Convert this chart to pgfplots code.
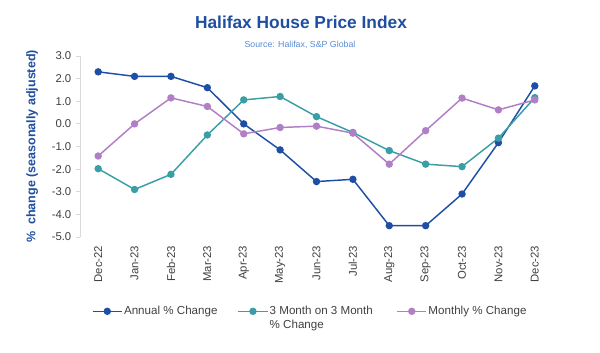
\documentclass[border=0pt]{standalone}
\usepackage{fontspec}
\setmainfont{Liberation Sans}
\usepackage{pgfplots}
\pgfplotsset{compat=1.18}
\definecolor{annual}{HTML}{1F4FA5}
\definecolor{threem}{HTML}{3A9EA6}
\definecolor{monthly}{HTML}{B07FC5}
\definecolor{titleblue}{HTML}{1F4EA0}
\definecolor{srcblue}{HTML}{5A8BD6}
\definecolor{ticktext}{HTML}{404040}
\begin{document}
\begin{tikzpicture}
\useasboundingbox (0,0) rectangle (450pt,264.75pt);
\node[font=\fontsize{13}{15}\selectfont\bfseries, text=titleblue] at (225.75pt,248.25pt) {Halifax House Price Index};
\node[font=\fontsize{6.6}{8}\selectfont, text=srcblue] at (225pt,231pt) {Source: Halifax, S\&P Global};
\begin{axis}[
  at={(60pt,87pt)}, anchor=south west,
  scale only axis, width=354.75pt, height=135.75pt,
  xmin=-0.5, xmax=12.5, ymin=-5, ymax=3,
  xtick={0,...,12},
  xticklabels={Dec-22,Jan-23,Feb-23,Mar-23,Apr-23,May-23,Jun-23,Jul-23,Aug-23,Sep-23,Oct-23,Nov-23,Dec-23},
  ytick={-5,-4,...,3},
  axis y line=left, axis x line=bottom,
  y axis line style={-, draw=black!15, line width=0.6pt},
  x axis line style={-, draw=none},
  xtick style={draw=none},
  ytick style={draw=black!15, line width=0.6pt},
  tick align=outside, major tick length=3pt,
  /pgf/number format/assume math mode=true,
  yticklabel style={/pgf/number format/.cd, fixed, fixed zerofill, precision=1},
  ticklabel style={font=\fontsize{8.5}{10}\selectfont, text=ticktext},
  xticklabel style={rotate=90, anchor=east},
  ylabel={\%\ \ change (seasonally adjusted)},
  ylabel style={at={(axis description cs:-0.101,0.5)}, anchor=center, font=\fontsize{9.4}{11}\selectfont\bfseries, text=titleblue},
  every axis plot/.append style={line width=1.1pt, mark=*, mark size=2.2pt},
  legend columns=3,
  legend cell align=left,
  legend image code/.code={\draw[#1, mark repeat=2, mark phase=2] plot coordinates {(0pt,0pt) (11pt,0pt) (22pt,0pt)};},
  legend style={draw=none, fill=none, at={(axis description cs:0.486,-0.36)}, anchor=north,
    font=\fontsize{8.7}{10.4}\selectfont, text=ticktext,
    nodes={inner sep=1pt, anchor=mid west},
    /tikz/every even column/.append style={column sep=14pt}},
]
\addplot[color=annual] coordinates {(0,2.3) (1,2.1) (2,2.1) (3,1.6) (4,0.0) (5,-1.15) (6,-2.55) (7,-2.45) (8,-4.5) (9,-4.5) (10,-3.1) (11,-0.83) (12,1.68)};
\addlegendentry{Annual \% Change}
\addplot[color=threem] coordinates {(0,-1.98) (1,-2.9) (2,-2.23) (3,-0.49) (4,1.06) (5,1.21) (6,0.32) (7,-0.38) (8,-1.18) (9,-1.78) (10,-1.89) (11,-0.63) (12,1.16)};
\addlegendentry{\parbox[t]{80pt}{\raggedright 3 Month on 3 Month\\\% Change}}
\addplot[color=monthly] coordinates {(0,-1.42) (1,0.0) (2,1.15) (3,0.77) (4,-0.44) (5,-0.16) (6,-0.1) (7,-0.41) (8,-1.78) (9,-0.3) (10,1.14) (11,0.62) (12,1.06)};
\addlegendentry{Monthly \% Change}
\end{axis}
\end{tikzpicture}
\end{document}
